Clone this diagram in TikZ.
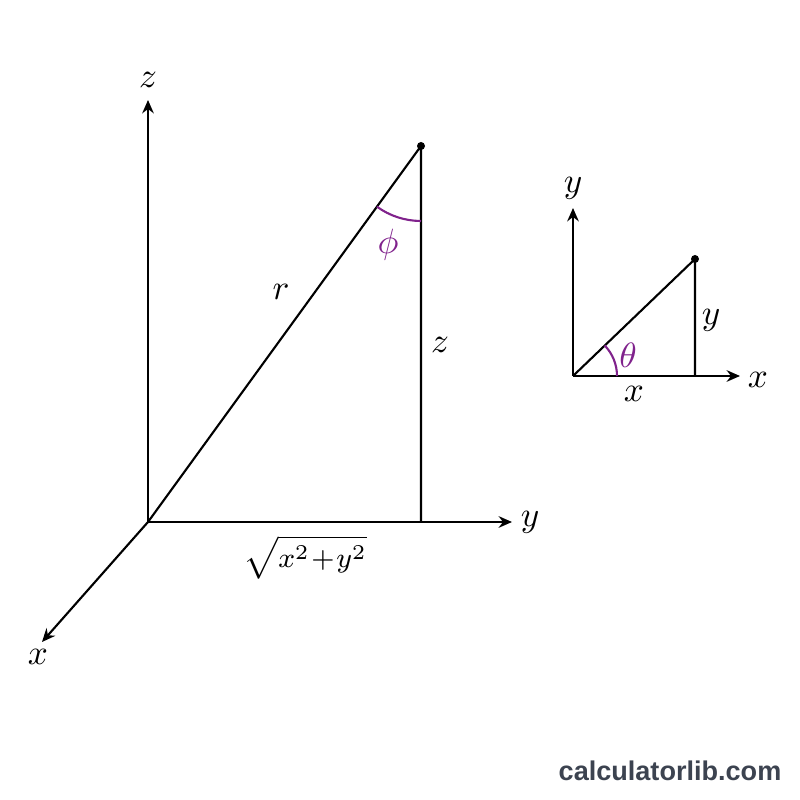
\documentclass[tikz,border=0pt]{standalone}
\usepackage{fontspec}
\newfontfamily\wmfont{Liberation Sans}
\usetikzlibrary{arrows.meta}
\definecolor{anglepurple}{RGB}{128,34,140}
\definecolor{wmgray}{RGB}{60,67,80}

\begin{document}
\begin{tikzpicture}[line width=0.6pt, font=\normalsize,
		axis/.style={-{Stealth[length=3.8pt, width=3.3pt]}},
		anglearc/.style={anglepurple, line width=0.6pt}]
		\useasboundingbox (0, 0) rectangle (8, 8);
		% 3D sketch
		\coordinate (O) at (1.48, 2.78);
		\coordinate (ztip) at (1.48, 7.0);
		\coordinate (ytip) at (5.12, 2.78);
		\coordinate (xtip) at (0.42, 1.58);
		\coordinate (P) at (4.21, 6.54);
		\coordinate (F) at (4.21, 2.78);
		\draw[axis] (O) -- (ztip);
		\draw[axis] (O) -- (ytip);
		\draw[axis] (O) -- (xtip);
		\draw (O) -- (P) -- (F);
		\fill (P) circle[radius=0.04];
		\draw[anglearc] ([shift={(234:0.75)}]P) arc[radius=0.75, start angle=234, end angle=270];
		\node (zlabel) at (1.48, 7.2) {$z$};
		\node (ylabel) at (5.30, 2.78) {$y$};
		\node (xlabel) at (0.38, 1.43) {$x$};
		\node (rlabel) at (2.81, 5.08) {$r$};
		\node (zside) at (4.40, 4.55) {$z$};
		\node (phi) at (3.88, 5.55) {\color{anglepurple}$\phi$};
		\node[font=\footnotesize] (base) at (3.05, 2.43) {$\sqrt{x^2\!+\!y^2}$};
		% plane sketch
		\coordinate (Q) at (5.73, 4.24);
		\coordinate (qytip) at (5.73, 5.92);
		\coordinate (qxtip) at (7.40, 4.24);
		\coordinate (P2) at (6.95, 5.41);
		\coordinate (F2) at (6.95, 4.24);
		\draw[axis] (Q) -- (qytip);
		\draw[axis] (Q) -- (qxtip);
		\draw (Q) -- (P2) -- (F2);
		\fill (P2) circle[radius=0.04];
		\draw[anglearc] ([shift={(0:0.44)}]Q) arc[radius=0.44, start angle=0, end angle=44];
		\node (qylabel) at (5.73, 6.12) {$y$};
		\node (qxlabel) at (7.58, 4.20) {$x$};
		\node (yside) at (7.11, 4.80) {$y$};
		\node (xside) at (6.34, 4.06) {$x$};
		\node (theta) at (6.28, 4.45) {\color{anglepurple}$\theta$};
		\node[wmgray, font=\wmfont\bfseries\fontsize{7.7}{9}\selectfont] (site) at (6.70, 0.29) {calculatorlib.com};
	\end{tikzpicture}
\end{document}
